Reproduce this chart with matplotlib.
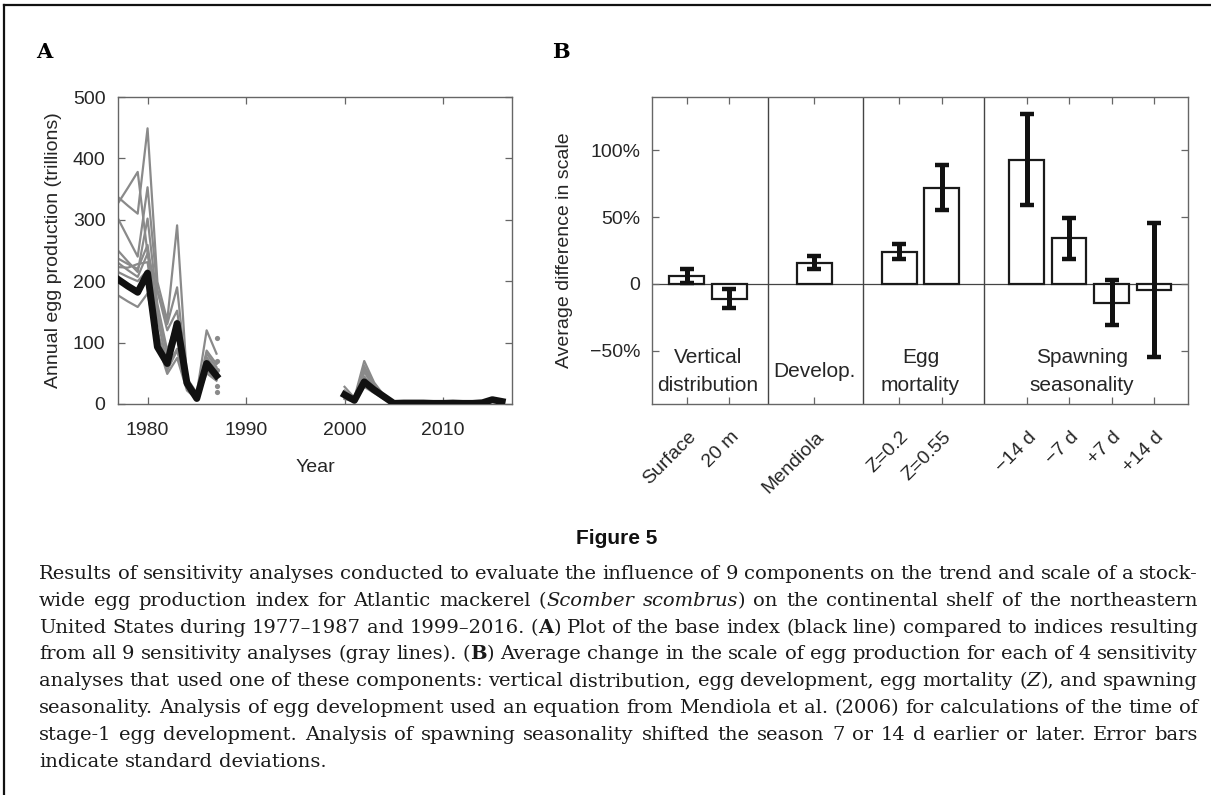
import re
import matplotlib
matplotlib.use("Agg")
import matplotlib.pyplot as plt
from matplotlib.lines import Line2D
from matplotlib.transforms import offset_copy
import numpy as np

W, H = 1211, 795

# ---- panel A data ----
years_early = list(range(1977, 1988))
years_late = list(range(2000, 2017))
base_early = [203, 192, 182, 213, 93, 66, 131, 34, 9, 66, 46]
base_late = [15, 6, 36, 23, 12, 1, 1.5, 1.5, 1.5, 1, 1, 1.5, 1, 1, 2, 7, 4]

gray_early = [
    [327, 352, 378, 245, 185, 120, 152, 38, 16, 87, 65],
    [337, 323, 310, 449, 199, 136, 291, 42, 18, 120, 82],
    [302, 271, 240, 353, 185, 130, 190, 38, 15, 82, 60],
    [250, 232, 215, 302, 163, 87, 136, 35, 12, 76, 55],
    [237, 228, 220, 259, 150, 80, 130, 33, 11, 70, 50],
    [230, 218, 207, 245, 140, 65, 110, 30, 10, 68, 48],
    [223, 222, 228, 231, 120, 60, 90, 28, 9, 60, 44],
    [215, 207, 200, 218, 110, 55, 87, 25, 8, 55, 40],
    [177, 167, 158, 180, 100, 49, 75, 22, 8, 50, 38],
]
gray_late = [
    [28, 10, 70, 35, 14, 1, 1, 1, 1, 1, 1, 1, 1, 1, 2, 8, 4],
    [22, 8, 62, 32, 13, 1, 1, 1, 1, 1, 1, 1, 1, 1, 2, 7, 4],
    [20, 8, 57, 30, 12, 1, 1, 1, 1, 1, 1, 1, 1, 1, 2, 7, 4],
    [18, 7, 52, 28, 12, 1, 1, 1, 1, 1, 1, 1, 1, 1, 2, 6, 3],
    [16, 6, 45, 26, 11, 1, 1, 1, 1, 1, 1, 1, 1, 1, 2, 6, 3],
    [14, 6, 40, 24, 10, 1, 1, 1, 1, 1, 1, 1, 1, 1, 2, 6, 3],
    [12, 5, 34, 22, 10, 1, 1, 1, 1, 1, 1, 1, 1, 1, 2, 6, 3],
    [10, 5, 30, 20, 9, 1, 1, 1, 1, 1, 1, 1, 1, 1, 2, 5, 3],
    [8, 4, 28, 18, 8, 1, 1, 1, 1, 1, 1, 1, 1, 1, 2, 5, 3],
]
gray_dots_1987 = [108, 70, 55, 30, 20]

# ---- panel B data ----
bar_labels = ["Surface", "20 m", "Mendiola", "Z=0.2", "Z=0.55",
              "\u221214 d", "\u22127 d", "+7 d", "+14 d"]
bar_pos = [1, 2, 4, 6, 7, 9, 10, 11, 12]
bar_vals = [6, -11, 16, 24, 72, 93, 34, -14, -4.5]
bar_sd = [5, 7, 5, 5.5, 17, 34, 15, 17, 50]
group_names = ["Vertical\ndistribution", "Develop.", "Egg\nmortality",
               "Spawning\nseasonality"]
group_centers = [1.5, 4.0, 6.5, 10.3]
group_seps = [2.9, 5.15, 8.0]

caption_lines = [
    "Results of sensitivity analyses conducted to evaluate the influence of 9 components on the trend and scale of a stock-",
    "wide egg production index for Atlantic mackerel (*Scomber* *scombrus*) on the continental shelf of the northeastern",
    "United States during 1977\u20131987 and 1999\u20132016. (**A**) Plot of the base index (black line) compared to indices resulting",
    "from all 9 sensitivity analyses (gray lines). (**B**) Average change in the scale of egg production for each of 4 sensitivity",
    "analyses that used one of these components: vertical distribution, egg development, egg mortality (*Z*), and spawning",
    "seasonality. Analysis of egg development used an equation from Mendiola et al. (2006) for calculations of the time of",
    "stage-1 egg development. Analysis of spawning seasonality shifted the season 7 or 14 d earlier or later. Error bars",
    "indicate standard deviations.",
]

plt.rcParams["font.family"] = ["Liberation Sans", "DejaVu Sans"]
tcol = "#262626"
spine_col = "#666666"

fig = plt.figure(figsize=(W / 100, H / 100), dpi=100)


def fx(px):
    return px / W


def fy(py):
    return 1 - py / H


def style_axes(ax):
    for s in ax.spines.values():
        s.set_color(spine_col)
        s.set_linewidth(1.0)
    ax.tick_params(direction="in", length=5, width=0.9, color=spine_col,
                   top=True, right=True, labelsize=14, labelcolor=tcol)


# ---- panel A ----
axA = fig.add_axes([fx(118), fy(404), fx(512) - fx(118), fy(97) - fy(404)])
for g in gray_early:
    axA.plot(years_early, g, color="#8a8a8a", lw=1.6, zorder=2)
for g in gray_late:
    axA.plot(years_late, g, color="#8a8a8a", lw=1.6, zorder=2)
axA.scatter([years_early[-1]] * len(gray_dots_1987), gray_dots_1987,
            s=14, color="#8a8a8a", zorder=2, linewidths=0)
axA.plot(years_early, base_early, color="#111111", lw=5, zorder=3)
axA.plot(years_late, base_late, color="#111111", lw=5, zorder=3)
axA.set_xlim(1977, 2017)
axA.set_ylim(0, 500)
axA.set_xticks([1980, 1990, 2000, 2010])
axA.set_yticks([0, 100, 200, 300, 400, 500])
style_axes(axA)
axA.tick_params(axis="x", pad=13)
axA.tick_params(axis="y", pad=9)
axA.set_xlabel("Year", fontsize=14, color=tcol, labelpad=14)
axA.set_ylabel("Annual egg production (trillions)", fontsize=14, color=tcol,
               labelpad=8)

# ---- panel B ----
axB = fig.add_axes([fx(652), fy(404), fx(1188) - fx(652), fy(97) - fy(404)])
axB.bar(bar_pos, bar_vals, width=0.82, facecolor="white",
        edgecolor="#1a1a1a", linewidth=1.6, zorder=2)
axB.errorbar(bar_pos, bar_vals, yerr=bar_sd, fmt="none", ecolor="#111111",
             elinewidth=3.6, capsize=5, capthick=3.2, zorder=3)
axB.axhline(0, color="#444444", lw=0.9, zorder=1)
for s in group_seps:
    axB.axvline(s, color="#444444", lw=1.0, zorder=1)
for name, cx in zip(group_names, group_centers):
    axB.text(cx, -66, name, ha="center", va="center", fontsize=15,
             color=tcol, linespacing=1.6)
axB.set_xlim(0.18, 12.8)
axB.set_ylim(-90, 140)
axB.set_xticks(bar_pos)
axB.set_xticklabels([])
axB.set_yticks([-50, 0, 50, 100])
axB.set_yticklabels(["\u221250%", "0", "50%", "100%"])
style_axes(axB)
axB.tick_params(axis="y", pad=8.5)
axB.set_ylabel("Average difference in scale", fontsize=14, color=tcol,
               labelpad=12)
lab_tr = offset_copy(axB.get_xaxis_transform(), fig=fig, x=5, y=-22,
                     units="points")
for xp, lab in zip(bar_pos, bar_labels):
    axB.text(xp, 0, lab, transform=lab_tr, rotation=45,
             rotation_mode="anchor", ha="right", va="center", fontsize=14,
             color=tcol, clip_on=False)

# ---- panel letters ----
fig.text(fx(36), fy(52), "A", fontsize=15, fontweight="bold",
         family="DejaVu Serif", va="center", ha="left")
fig.text(fx(552), fy(52), "B", fontsize=15, fontweight="bold",
         family="DejaVu Serif", va="center", ha="left")

# ---- figure title ----
fig.text(fx(617), fy(538), "Figure 5", fontsize=15, fontweight="bold",
         ha="center", va="center", color="#111111")

# ---- caption, justified ----
renderer = fig.canvas.get_renderer()
cap_left, cap_right = 39, 1198
cap_size = 14
styles = {"n": {}, "i": {"style": "italic"}, "b": {"weight": "bold"}}


def parse_word(word):
    pieces = []
    for part in re.split(r"(\*\*[^*]+\*\*|\*[^*]+\*)", word):
        if not part:
            continue
        if part.startswith("**"):
            pieces.append((part[2:-2], "b"))
        elif part.startswith("*"):
            pieces.append((part[1:-1], "i"))
        else:
            pieces.append((part, "n"))
    return pieces


space_t = fig.text(0, 0, "a a", fontsize=cap_size, family="DejaVu Serif")
aa_t = fig.text(0, 0, "aa", fontsize=cap_size, family="DejaVu Serif")
space_w = (space_t.get_window_extent(renderer).width
           - aa_t.get_window_extent(renderer).width)
space_t.remove()
aa_t.remove()

for i, line in enumerate(caption_lines):
    base_y = 579 + 26.8 * i
    words = []
    for w in line.split(" "):
        objs = []
        for txt, st in parse_word(w):
            t = fig.text(0, fy(base_y), txt, fontsize=cap_size,
                         family="DejaVu Serif", color="#1a1a1a",
                         va="baseline", ha="left", **styles[st])
            objs.append((t, t.get_window_extent(renderer).width))
        words.append(objs)
    widths = [sum(wd for _, wd in objs) for objs in words]
    last = i == len(caption_lines) - 1
    if last or len(words) < 2:
        gap = space_w
    else:
        gap = (cap_right - cap_left - sum(widths)) / (len(words) - 1)
    x = cap_left
    for objs, wsum in zip(words, widths):
        xx = x
        for t, wd in objs:
            t.set_x(fx(xx))
            xx += wd
        x += wsum + gap

# ---- frame lines ----
fig.add_artist(Line2D([fx(4), fx(4)], [0, fy(5)], color="#111111", lw=1.6))
fig.add_artist(Line2D([fx(4), 1], [fy(5), fy(5)], color="#111111", lw=1.6))

fig.savefig("out.png", dpi=100)
